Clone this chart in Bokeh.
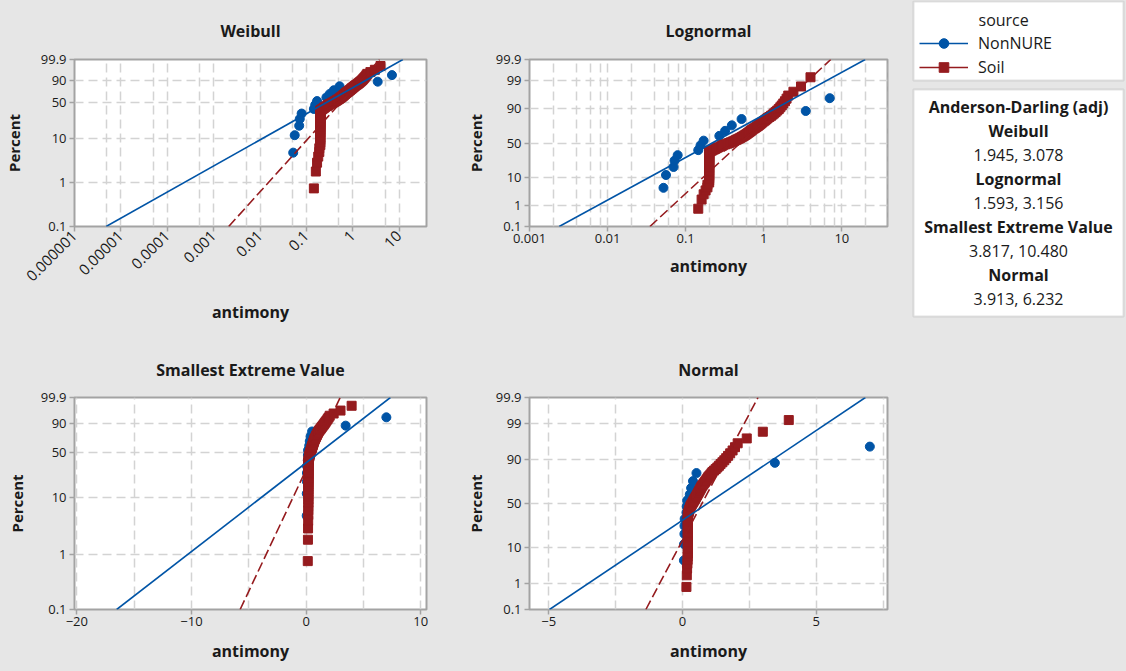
import math
from statistics import NormalDist
from bokeh.plotting import figure
from bokeh.layouts import row, column
from bokeh.models import Range1d, FixedTicker, BoxAnnotation, Label, Legend, LegendItem
from bokeh.embed import file_html
from bokeh.resources import INLINE

# ---------------- data ----------------
sources = ["NonNURE", "Soil"]

nonnure_antimony = [0.052, 0.056, 0.070, 0.072, 0.079, 0.145, 0.155, 0.170,
                    0.270, 0.320, 0.390, 0.520, 3.45, 7.00]

soil_antimony = [0.145, 0.160, 0.170, 0.180, 0.190, 0.190,
                 0.20, 0.20, 0.20, 0.20, 0.20, 0.20, 0.20, 0.20, 0.20, 0.20,
                 0.20, 0.20, 0.20, 0.20, 0.20, 0.20, 0.20, 0.20, 0.20, 0.20,
                 0.20, 0.20, 0.20, 0.20, 0.20, 0.20, 0.20, 0.20, 0.20,
                 0.21, 0.22, 0.23, 0.24, 0.25, 0.26, 0.28, 0.29, 0.30, 0.32, 0.34, 0.36,
                 0.38, 0.40, 0.42, 0.44, 0.46, 0.48, 0.50, 0.52, 0.54, 0.56, 0.58, 0.60,
                 0.62, 0.64, 0.66, 0.68, 0.70, 0.72,
                 0.75, 0.78, 0.81, 0.84, 0.87, 0.90, 0.93, 0.96,
                 1.00, 1.04, 1.08, 1.12, 1.18, 1.24, 1.30, 1.36, 1.42, 1.49, 1.56,
                 1.63, 1.70, 1.78, 1.87, 1.96, 2.06,
                 2.40, 3.00, 3.97]

dist_names = ["Weibull", "Lognormal", "Smallest Extreme Value", "Normal"]
ad_nonnure = [1.945, 1.593, 3.817, 3.913]
ad_soil = [3.078, 3.156, 10.480, 6.232]

# fitted parameters (NonNURE, Soil)
weibull_shape = [0.60, 1.18]
weibull_scale = [0.48, 0.736]
lognormal_loc = [-1.52, -0.69]
lognormal_scale = [1.46, 0.863]
sev_loc = [2.13, 1.065]
sev_scale = [2.70, 0.987]
normal_mean = [0.93, 0.725]
normal_sd = [1.91, 0.678]

pct_ticks_a = [0.1, 1, 10, 50, 90, 99.9]
pct_ticks_b = [0.1, 1, 10, 50, 90, 99, 99.9]
weibull_x_ticks = [0.000001, 0.00001, 0.0001, 0.001, 0.01, 0.1, 1, 10]
weibull_x_labels = ["0.000001", "0.00001", "0.0001", "0.001", "0.01", "0.1", "1", "10"]
lognormal_x_ticks = [0.001, 0.01, 0.1, 1, 10]
lognormal_x_labels = ["0.001", "0.01", "0.1", "1", "10"]
sev_x_ticks = [-20, -10, 0, 10]
normal_x_ticks = [-5, 0, 5]

# ---------------- styling ----------------
BG = "#e6e6e6"
FRAME = "#a3a3a3"
GRID = "#d3d3d3"
BLUE = "#0054a6"
RED = "#951b1e"
TXT = "#1a1a1a"
FONT = "Open Sans"

ND = NormalDist()


def weibull_y(p):
    return math.log(-math.log(1.0 - p))


def normal_y(p):
    return ND.inv_cdf(p)


def fit_x(dist, k, p):
    if dist == "Weibull":
        return weibull_scale[k] * (-math.log(1.0 - p)) ** (1.0 / weibull_shape[k])
    if dist == "Lognormal":
        return math.exp(lognormal_loc[k] + lognormal_scale[k] * ND.inv_cdf(p))
    if dist == "Smallest Extreme Value":
        return sev_loc[k] + sev_scale[k] * weibull_y(p)
    return normal_mean[k] + normal_sd[k] * ND.inv_cdf(p)


def median_ranks(vals):
    s = sorted(vals)
    n = len(s)
    return s, [(i + 1 - 0.3) / (n + 0.4) for i in range(n)]


specs = {
    "Weibull": dict(yf=weibull_y, log=True, xr=(1e-6, 10 ** 1.59),
                    ticks=weibull_x_ticks, labels=weibull_x_labels,
                    grid=[m * 10.0 ** e for e in range(-6, 2) for m in (1, 5)],
                    pct=pct_ticks_a, w=459, h=340, bl=72, br=33, bt=59, bb=114,
                    tso=35, rot=True, ylso=14, xlso=12, xfs="15px"),
    "Lognormal": dict(yf=normal_y, log=True, xr=(1e-3, 10 ** 1.585),
                      ticks=lognormal_x_ticks, labels=lognormal_x_labels,
                      grid=[m * 10.0 ** e for e in range(-3, 2) for m in (1, 2, 4, 6, 8)],
                      pct=pct_ticks_b, w=446, h=340, bl=70, br=18, bt=59, bb=114,
                      tso=35, rot=False, ylso=7, xlso=9, xfs="13px"),
    "Smallest Extreme Value": dict(yf=weibull_y, log=False, xr=(-20.2, 10.5),
                                   ticks=sev_x_ticks, labels=None,
                                   grid=[-20, -15, -10, -5, 0, 5, 10],
                                   pct=pct_ticks_a, w=459, h=329, bl=72, br=33, bt=57, bb=60,
                                   tso=33, rot=False, ylso=11, xlso=11, xfs="13px"),
    "Normal": dict(yf=normal_y, log=False, xr=(-5.72, 7.66),
                   ticks=normal_x_ticks, labels=None,
                   grid=[-5, -2.5, 0, 2.5, 5, 7.5],
                   pct=pct_ticks_b, w=446, h=329, bl=70, br=18, bt=57, bb=60,
                   tso=33, rot=False, ylso=7, xlso=11, xfs="13px"),
}

series = [nonnure_antimony, soil_antimony]
colors = [BLUE, RED]
markers = ["circle", "square"]


def make_panel(name):
    s = specs[name]
    yf = s["yf"]
    yt = [yf(q / 100.0) for q in s["pct"]]
    p = figure(width=s["w"], height=s["h"],
               x_axis_type="log" if s["log"] else "linear",
               x_range=Range1d(*s["xr"]),
               y_range=Range1d(yt[0], yt[-1]),
               output_backend="svg", toolbar_location=None,
               min_border_left=s["bl"], min_border_right=s["br"],
               min_border_top=s["bt"], min_border_bottom=s["bb"],
               background_fill_color="white", border_fill_color=BG,
               outline_line_color=FRAME, outline_line_width=2)
    p.title.text = name
    p.title.align = "center"
    p.title.text_font = FONT
    p.title.text_font_size = "16px"
    p.title.text_font_style = "bold"
    p.title.text_color = TXT
    p.title.standoff = s["tso"]

    # y axis: probability scale
    p.yaxis.ticker = FixedTicker(ticks=yt)
    p.yaxis.major_label_overrides = {t: f"{q:g}" for t, q in zip(yt, s["pct"])}
    p.yaxis.axis_label = "Percent"
    p.yaxis.axis_label_standoff = s["ylso"]

    # x axis
    p.xaxis.ticker = FixedTicker(ticks=s["ticks"])
    if s["labels"] is not None:
        p.xaxis.major_label_overrides = dict(zip(s["ticks"], s["labels"]))
    if s["rot"]:
        p.xaxis.major_label_orientation = math.pi / 4
    p.xaxis.axis_label = "antimony"
    p.xaxis.axis_label_standoff = s["xlso"]

    for ax in (p.xaxis[0], p.yaxis[0]):
        ax.axis_line_color = None
        ax.major_tick_line_color = FRAME
        ax.major_tick_line_width = 1.5
        ax.major_tick_out = 5
        ax.major_tick_in = 0
        ax.minor_tick_line_color = None
        ax.major_label_text_font = FONT
        ax.major_label_text_font_size = "13px"
        ax.major_label_text_color = TXT
        ax.axis_label_text_font = FONT
        ax.axis_label_text_font_style = "bold"
        ax.axis_label_text_color = TXT
    p.xaxis.major_label_text_font_size = s["xfs"]
    p.yaxis.axis_label_text_font_size = "15px"
    p.xaxis.axis_label_text_font_size = "16px"
    p.xaxis.major_label_standoff = 2
    p.yaxis.major_label_standoff = 3

    p.xgrid.ticker = FixedTicker(ticks=s["grid"])
    for g in (p.xgrid[0], p.ygrid[0]):
        g.grid_line_color = GRID
        g.grid_line_width = 1.5
        g.grid_line_dash = "9 5"

    # points
    for k in range(2):
        xs, ps = median_ranks(series[k])
        p.scatter(xs, [yf(q) for q in ps], marker=markers[k], size=9,
                  fill_color=colors[k], line_color=colors[k])
    # fitted lines
    for k in (1, 0):
        px = [0.001, 0.999]
        p.line([fit_x(name, k, q) for q in px], [yf(q) for q in px],
               line_color=colors[k], line_width=1.6,
               line_dash="solid" if k == 0 else "10 4")
    return p


panels = [make_panel(n) for n in dist_names]

# ---------------- legend / statistics column ----------------
LW, LH = 220, 669
lf = figure(width=LW, height=LH, x_range=Range1d(0, LW), y_range=Range1d(LH, 0),
            output_backend="svg", toolbar_location=None, min_border=0,
            x_axis_location=None, y_axis_location=None,
            background_fill_color=BG, border_fill_color=BG, outline_line_color=None)
lf.grid.visible = False

lf.add_layout(BoxAnnotation(left=8, right=218, top=1, bottom=80, fill_color="white",
                            fill_alpha=1, line_color=FRAME, line_width=2))
lf.add_layout(BoxAnnotation(left=8, right=218, top=89, bottom=316, fill_color="white",
                            fill_alpha=1, line_color=FRAME, line_width=2))
lf.add_layout(Label(x=73, y=19, text="source", text_baseline="middle", text_align="left",
                    text_font=FONT, text_font_size="16px", text_color=TXT))

items = []
for k in range(2):
    # off-canvas samples so the legend has something to draw from
    rl = lf.line([-500, -400], [-500, -500], line_color=colors[k], line_width=1.6)
    rs = lf.scatter([-500], [-500], marker=markers[k], size=10,
                    fill_color=colors[k], line_color=colors[k])
    items.append(LegendItem(label=sources[k], renderers=[rl, rs]))
leg = Legend(items=items, location=(14, LH - 79), orientation="vertical",
             glyph_width=49, glyph_height=24, label_height=24, label_standoff=10,
             spacing=0, padding=0, margin=0, border_line_color=None,
             background_fill_alpha=0, label_text_font=FONT, label_text_font_size="16px",
             label_text_color=TXT)
lf.add_layout(leg)

lines = [("Anderson-Darling (adj)", "bold")]
for k, nm in enumerate(dist_names):
    lines.append((nm, "bold"))
    lines.append((f"{ad_nonnure[k]:.3f}, {ad_soil[k]:.3f}", "normal"))
for i, (txt, style) in enumerate(lines):
    lf.add_layout(Label(x=113, y=106 + i * 24.1, text=txt, text_align="center",
                        text_baseline="middle", text_font=FONT, text_font_size="16px",
                        text_font_style=style, text_color=TXT))

layout = row(column(panels[0], panels[2], spacing=0),
             column(panels[1], panels[3], spacing=0),
             lf, spacing=0)

open("out.html", "w").write(
    file_html(layout, INLINE).replace("<body>", '<body style="background-color:#e6e6e6;">'))
